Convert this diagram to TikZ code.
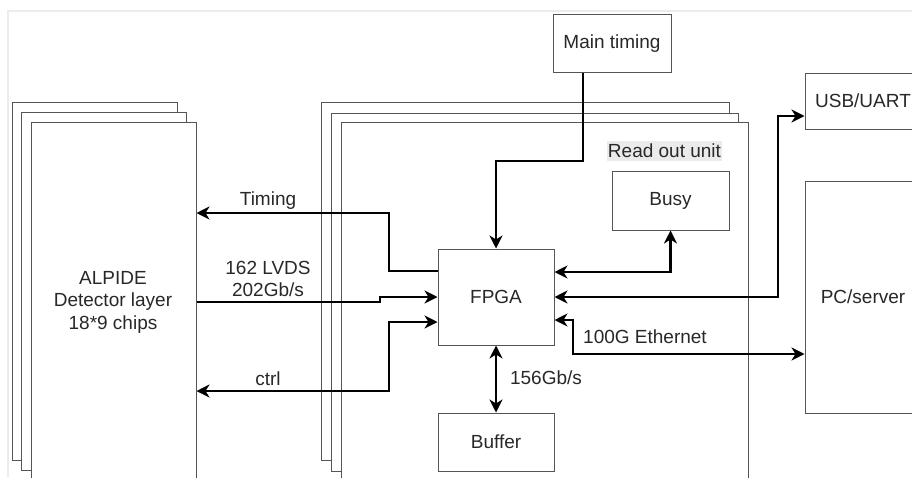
\documentclass[tikz,border=0pt]{standalone}
\usepackage{fontspec}
\setmainfont{Liberation Sans}
\usetikzlibrary{arrows.meta,calc}
\definecolor{boxc}{RGB}{85,85,85}
\definecolor{txtc}{RGB}{40,40,40}
\definecolor{framec}{RGB}{236,236,236}
\definecolor{lblbg}{RGB}{235,235,235}
\begin{document}
\begin{tikzpicture}[x=1pt,y=-1pt,
  every node/.style={font=\fontsize{19}{22.5}\selectfont, text=txtc},
  blk/.style={draw=boxc, line width=1pt, fill=white, rectangle, inner sep=0pt},
  sheet/.style={draw=boxc, line width=1pt, fill=white},
  arr/.style={line width=2.3pt, black, line join=miter,
     arrows={-Stealth[length=13pt,width=13pt,inset=4pt]}},
  arr2/.style={line width=2.3pt, black, line join=miter,
     arrows={Stealth[length=13pt,width=13pt,inset=4pt]-Stealth[length=13pt,width=13pt,inset=4pt]}},
  lbl/.style={inner sep=0pt, align=center}
]
\useasboundingbox (0,0) rectangle (912,477);
\clip (0,0) rectangle (912,477);
% canvas frame
\draw[framec, line width=2pt] (8,477) -- (8,11) -- (912,11);

% ALPIDE stack
\draw[sheet] (12,102) rectangle (177,460);
\draw[sheet] (21.5,112.5) rectangle (186.5,470.5);
\node[blk, minimum width=165pt, minimum height=359pt] (alpide) at (113.5,302) {};
\node[lbl] (alpidetxt) at (113,302) {ALPIDE\\Detector layer\\18*9 chips};

% Read out stack
\draw[sheet] (321,102) rectangle (729,460);
\draw[sheet] (331,113) rectangle (738,471);
\node[blk, minimum width=407pt, minimum height=359pt] (rou) at (544.5,302) {};
\node[fill=lblbg, inner xsep=1pt, inner ysep=0pt, minimum height=20pt] (roulbl) at (664.5,151) {Read out unit};

% boxes
\node[blk, minimum width=118pt, minimum height=58pt] (main) at (612,43.5) {Main timing};
\node[blk, minimum width=116pt, minimum height=56pt] (usb) at (863,101) {USB/UART};
\node[blk, minimum width=116pt, minimum height=232pt] (pc) at (863,297) {PC/server};
\node[blk, minimum width=116pt, minimum height=96pt] (fpga) at (496,297) {FPGA};
\node[blk, minimum width=117pt, minimum height=59pt] (busy) at (670.5,200.5) {Busy};
\node[blk, minimum width=116pt, minimum height=58pt] (buffer) at (496,442) {Buffer};

% bend coordinates
\coordinate (tb) at (389,213);
\coordinate (lv) at (380,302);
\coordinate (cb) at (389,391);
\coordinate (ub) at (778,116);
\coordinate (eb) at (573,354);

% connectors
\draw[arr] ([xshift=-29pt]main.south) -- ++(0,88) -| (fpga.north);
\draw[arr] ([yshift=26pt]fpga.west) -| (tb) -- (tb -| alpide.east);
\draw[arr] (lv -| alpide.east) -- (lv) -- ++(0,-5) -- (fpga.west);
\draw[arr2] ([yshift=-25pt]fpga.west) -| (cb) -- (cb -| alpide.east);
\draw[arr2] ([yshift=25pt]fpga.east) -| (busy.south);
\draw[arr2] (fpga.east) -| (ub) -- (ub -| usb.west);
\draw[arr2] ([yshift=-23pt]fpga.east) -| (eb) -- (eb -| pc.west);
\draw[arr2] (fpga.south) -- (buffer.north);

% labels
\node[lbl] (ltiming) at (268,201) {Timing};
\node[lbl] (llvds) at (268,279) {162 LVDS\\202Gb/s};
\node[lbl] (lctrl) at (268,379) {ctrl};
\node[lbl] (leth) at (645,337) {100G Ethernet};
\node[lbl] (lbuf) at (546,378) {156Gb/s};
\end{tikzpicture}
\end{document}
